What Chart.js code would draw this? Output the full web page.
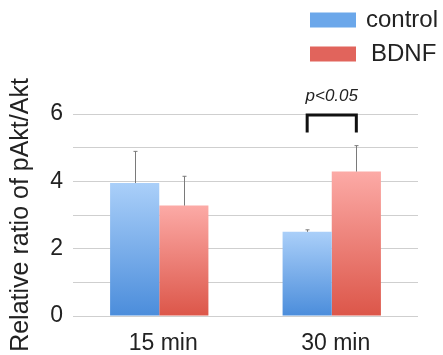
<!DOCTYPE html>
<html>
<head>
<meta charset="utf-8">
<script src="https://cdn.jsdelivr.net/npm/chart.js@4/dist/chart.umd.min.js"></script>
<style>
    html, body { margin: 0; padding: 0; background: #fff; }
    #wrap { width: 443px; height: 355px; }
</style>
</head>
<body>
<div id="wrap"><canvas id="pAktChart"></canvas></div>
<script>
const categories = ['15 min', '30 min'];
const seriesNames = ['control', 'BDNF'];
const controlValues = [3.95, 2.5];
const bdnfValues = [3.28, 4.29];
const controlErrors = [0.94, 0.06];
const bdnfErrors = [0.87, 0.77];
const yTickLabels = [0, 2, 4, 6];
const significance = { category: 1, label: 'p<0.05', top: 6, armBottom: 5.45 };

const FONT = '"Liberation Sans", Arial, sans-serif';
const blueShades = ['#aacff9', '#4b8ddb'];
const redShades = ['#fcaaa6', '#dc5649'];

function barGradient(ctx, shades) {
    const chart = ctx.chart;
    if (!chart.chartArea || ctx.type !== 'data') return shades[1];
    const y = chart.scales.y;
    const top = y.getPixelForValue(ctx.raw);
    const bottom = y.getPixelForValue(0);
    const g = chart.ctx.createLinearGradient(0, top, 0, bottom);
    g.addColorStop(0, shades[0]);
    g.addColorStop(1, shades[1]);
    return g;
}

const extrasPlugin = {
    id: 'extras',
    afterDraw(chart) {
        const ctx = chart.ctx;
        const y = chart.scales.y;
        const errors = [controlErrors, bdnfErrors];
        const values = [controlValues, bdnfValues];

        // error bars (upper only)
        ctx.save();
        ctx.strokeStyle = '#7a7a7a';
        ctx.lineWidth = 1;
        errors.forEach((errs, i) => {
            chart.getDatasetMeta(i).data.forEach((bar, j) => {
                const x = Math.round(bar.x) + 0.5;
                const yTop = y.getPixelForValue(values[i][j] + errs[j]);
                ctx.beginPath();
                ctx.moveTo(x, bar.y);
                ctx.lineTo(x, yTop);
                ctx.moveTo(x - 2, yTop);
                ctx.lineTo(x + 2, yTop);
                ctx.stroke();
            });
        });
        ctx.restore();

        // significance bracket
        const x1 = chart.getDatasetMeta(0).data[significance.category].x;
        const x2 = chart.getDatasetMeta(1).data[significance.category].x;
        const yt = y.getPixelForValue(significance.top) + 1;
        const yb = y.getPixelForValue(significance.armBottom);
        ctx.save();
        ctx.strokeStyle = '#111';
        ctx.lineWidth = 3;
        ctx.beginPath();
        ctx.moveTo(x1, yb);
        ctx.lineTo(x1, yt);
        ctx.lineTo(x2, yt);
        ctx.lineTo(x2, yb);
        ctx.stroke();
        ctx.fillStyle = '#222';
        ctx.font = 'italic 17px ' + FONT;
        ctx.textAlign = 'center';
        ctx.textBaseline = 'middle';
        ctx.fillText(significance.label, (x1 + x2) / 2, yt - 19);
        ctx.restore();

        // legend
        const legendColors = ['#6ba7ea', '#e1645c'];
        ctx.save();
        ctx.font = '24px ' + FONT;
        ctx.textBaseline = 'middle';
        ctx.fillStyle = '#222';
        seriesNames.forEach((name, i) => {
            const cy = 20 + i * 34;
            ctx.fillStyle = legendColors[i];
            ctx.fillRect(310, cy - 7.5, 46, 15);
            ctx.fillStyle = '#222';
            ctx.fillText(name, 366 + i * 5, cy);
        });
        ctx.restore();
    }
};

new Chart(document.getElementById('pAktChart'), {
    type: 'bar',
    data: {
        labels: categories,
        datasets: [
            {
                label: seriesNames[0],
                data: controlValues,
                backgroundColor: ctx => barGradient(ctx, blueShades),
                borderWidth: 0,
                categoryPercentage: 0.57,
                barPercentage: 1.0
            },
            {
                label: seriesNames[1],
                data: bdnfValues,
                backgroundColor: ctx => barGradient(ctx, redShades),
                borderWidth: 0,
                categoryPercentage: 0.57,
                barPercentage: 1.0
            }
        ]
    },
    options: {
        responsive: true,
        maintainAspectRatio: false,
        animation: false,
        layout: { padding: { top: 114, right: 25, left: 0, bottom: 0 } },
        plugins: {
            legend: { display: false },
            tooltip: { enabled: false }
        },
        scales: {
            x: {
                grid: { display: false, drawTicks: false },
                border: { display: false },
                ticks: {
                    color: '#222',
                    font: { family: FONT, size: 23 },
                    padding: 14,
                    labelOffset: 4
                },
                afterFit: scale => { scale.height = 39; }
            },
            y: {
                min: 0,
                max: 6,
                grid: { color: '#cfcfcf', lineWidth: 1, drawTicks: false },
                border: { display: false },
                ticks: {
                    stepSize: 1,
                    autoSkip: false,
                    color: '#222',
                    font: { family: FONT, size: 23 },
                    padding: 10,
                    callback: v => yTickLabels.includes(v) ? String(v) : ''
                },
                title: {
                    display: true,
                    text: 'Relative ratio of pAkt/Akt',
                    color: '#222',
                    font: { family: FONT, size: 25 },
                    padding: { top: 6, bottom: 0 }
                },
                afterFit: scale => { scale.width = 73; }
            }
        }
    },
    plugins: [extrasPlugin]
});
</script>
</body>
</html>
